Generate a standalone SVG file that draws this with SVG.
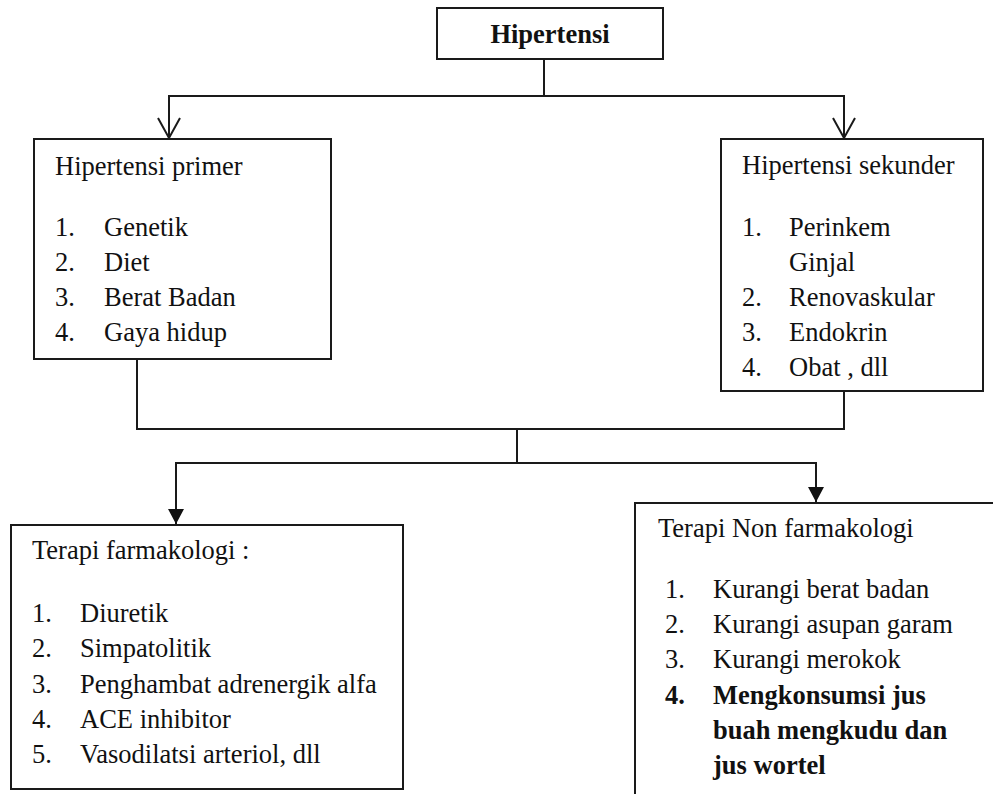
<svg xmlns="http://www.w3.org/2000/svg" width="993" height="794" viewBox="0 0 993 794">
<style>
.box{fill:#fff;stroke:#1a1a1a;stroke-width:2}
.ln{fill:none;stroke:#1a1a1a;stroke-width:2}
text{font-family:"Liberation Serif","Times New Roman",serif;font-size:26.5px;fill:#111}
.b{font-weight:bold}
</style>
<defs>
<marker id="open" markerUnits="userSpaceOnUse" markerWidth="26" markerHeight="24" refX="12" refY="21" viewBox="0 0 24 24">
<path d="M1,1 L12,21 L23,1" fill="none" stroke="#1a1a1a" stroke-width="2"/>
</marker>
<marker id="fill" markerUnits="userSpaceOnUse" markerWidth="16" markerHeight="16" refX="8" refY="15" viewBox="0 0 16 16">
<path d="M0,0 L16,0 L8,15 Z" fill="#111"/>
</marker>
</defs>
<rect width="993" height="794" fill="#fff"/>
<g id="connectors">
<path class="ln" d="M544,59 V96"/>
<path class="ln" d="M544,96 H169 V138" marker-end="url(#open)"/>
<path class="ln" d="M544,96 H844 V138" marker-end="url(#open)"/>
<path class="ln" d="M137,359 V429 H844 V391"/>
<path class="ln" d="M517,429 V463"/>
<path class="ln" d="M517,463 H176 V524" marker-end="url(#fill)"/>
<path class="ln" d="M517,463 H816 V502" marker-end="url(#fill)"/>
</g>
<g id="hipertensi">
<rect class="box" x="437" y="8" width="226" height="51"/>
<text class="b" x="550" y="43" text-anchor="middle">Hipertensi</text>
</g>
<g id="primer">
<rect class="box" x="34" y="139" width="297" height="220"/>
<text x="55" y="175">Hipertensi primer</text>
<text x="55" y="236">1.</text><text x="104" y="236">Genetik</text>
<text x="55" y="271">2.</text><text x="104" y="271">Diet</text>
<text x="55" y="306">3.</text><text x="104" y="306">Berat Badan</text>
<text x="55" y="341">4.</text><text x="104" y="341">Gaya hidup</text>
</g>
<g id="sekunder">
<rect class="box" x="721" y="139" width="262" height="252"/>
<text x="742" y="174">Hipertensi sekunder</text>
<text x="742" y="236">1.</text><text x="789" y="236">Perinkem</text>
<text x="789" y="271">Ginjal</text>
<text x="742" y="306">2.</text><text x="789" y="306">Renovaskular</text>
<text x="742" y="341">3.</text><text x="789" y="341">Endokrin</text>
<text x="742" y="376">4.</text><text x="789" y="376">Obat , dll</text>
</g>
<g id="farmakologi">
<rect class="box" x="11" y="525" width="392" height="264"/>
<text x="32" y="559">Terapi farmakologi :</text>
<text x="32" y="622">1.</text><text x="80" y="622">Diuretik</text>
<text x="32" y="657">2.</text><text x="80" y="657">Simpatolitik</text>
<text x="32" y="693">3.</text><text x="80" y="693">Penghambat adrenergik alfa</text>
<text x="32" y="728">4.</text><text x="80" y="728">ACE inhibitor</text>
<text x="32" y="763">5.</text><text x="80" y="763">Vasodilatsi arteriol, dll</text>
</g>
<g id="nonfarmakologi">
<rect class="box" x="635" y="503" width="370" height="300"/>
<text x="658" y="537">Terapi Non farmakologi</text>
<text x="665" y="598">1.</text><text x="713" y="598">Kurangi berat badan</text>
<text x="665" y="633">2.</text><text x="713" y="633">Kurangi asupan garam</text>
<text x="665" y="668">3.</text><text x="713" y="668">Kurangi merokok</text>
<text class="b" x="665" y="704">4.</text><text class="b" x="713" y="704">Mengkonsumsi jus</text>
<text class="b" x="713" y="739">buah mengkudu dan</text>
<text class="b" x="713" y="774">jus wortel</text>
</g>
</svg>
